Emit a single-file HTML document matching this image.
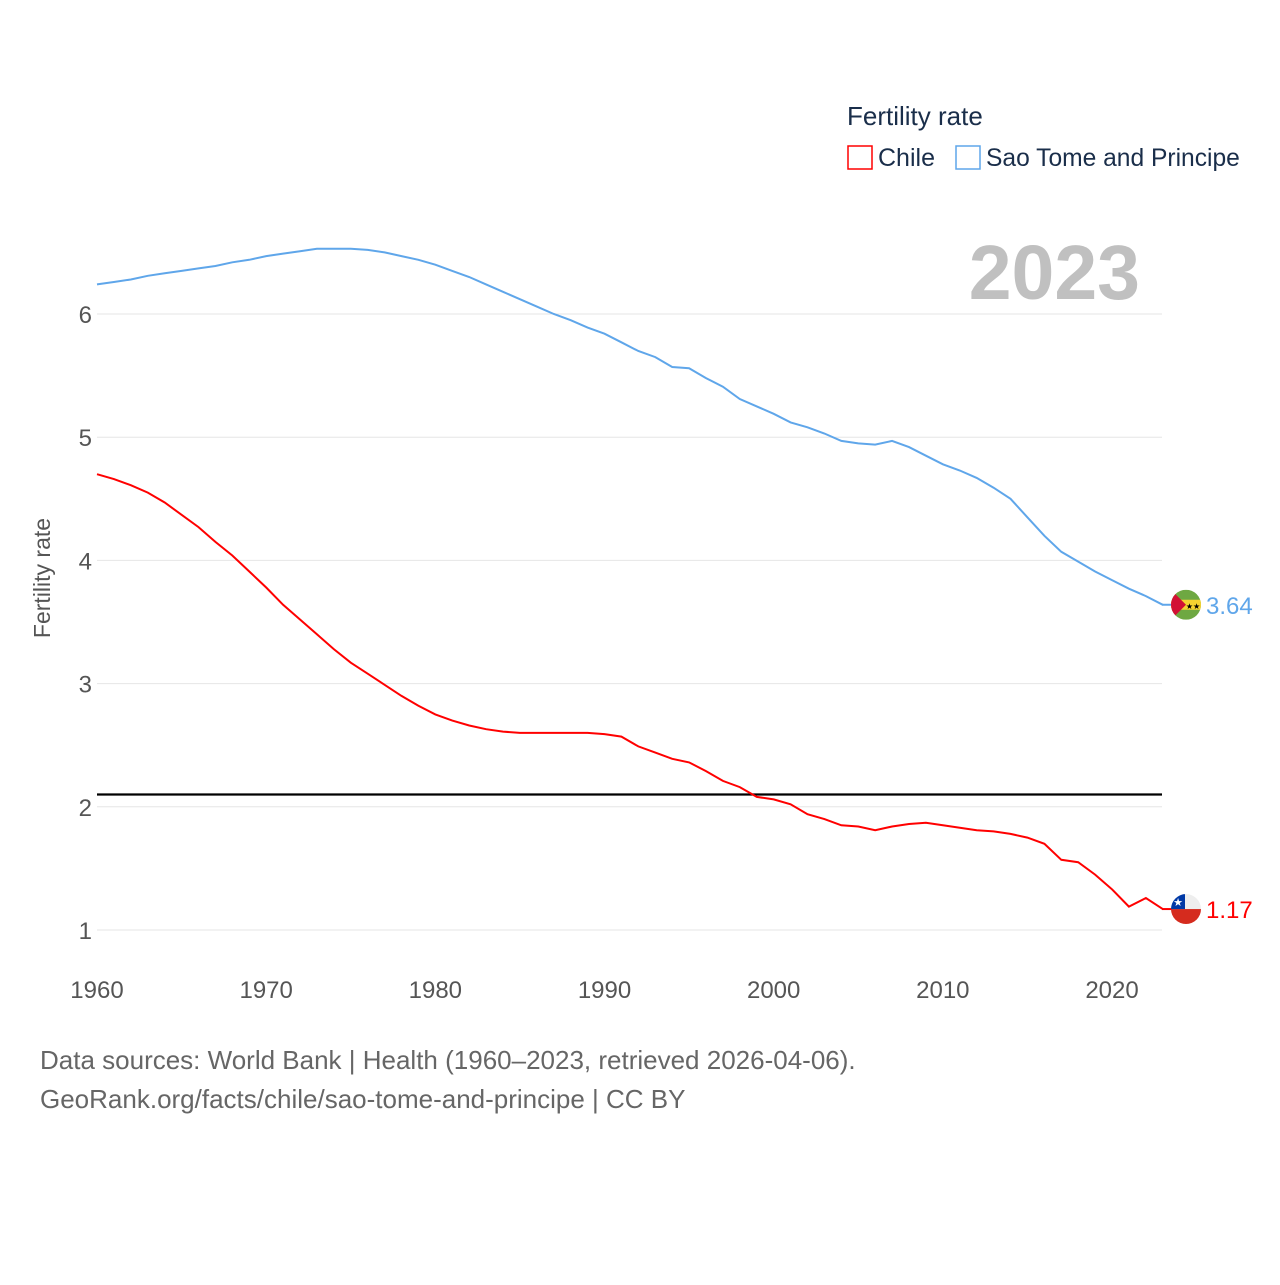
<!DOCTYPE html>
<html><head><meta charset="utf-8"><style>
body{margin:0;background:#fff;width:1280px;height:1280px;overflow:hidden;font-family:"Liberation Sans",sans-serif}
</style></head><body>
<svg id="chart" width="1280" height="1280" xmlns="http://www.w3.org/2000/svg">
<text x="847" y="125" font-size="26" fill="#1a2e4a">Fertility rate</text>
<rect x="848" y="146" width="24" height="23" fill="none" stroke="#f00" stroke-width="1.5"/>
<text x="878" y="166" font-size="25" fill="#1a2e4a">Chile</text>
<rect x="956" y="146" width="24" height="23" fill="none" stroke="#5fa6ea" stroke-width="1.5"/>
<text x="986" y="166" font-size="24.6" fill="#1a2e4a">Sao Tome and Principe</text>
<text x="1140" y="299" font-size="77" font-weight="bold" fill="#c0c0c0" text-anchor="end">2023</text>
<text transform="translate(50,578) rotate(-90)" font-size="23" fill="#555" text-anchor="middle">Fertility rate</text>
<g id="grid"></g><g id="lines"></g>
<text x="40" y="1069" font-size="26" fill="#666">Data sources: World Bank | Health (1960–2023, retrieved 2026-04-06).</text>
<text x="40" y="1108" font-size="26" fill="#666">GeoRank.org/facts/chile/sao-tome-and-principe | CC BY</text>
</svg>
<script>
const years=[];for(let y=1960;y<=2023;y++)years.push(y);
const chile=[4.70,4.66,4.61,4.55,4.47,4.37,4.27,4.15,4.04,3.91,3.78,3.64,3.52,3.40,3.28,3.17,3.08,2.99,2.90,2.82,2.75,2.70,2.66,2.63,2.61,2.60,2.60,2.60,2.60,2.60,2.59,2.57,2.49,2.44,2.39,2.36,2.29,2.21,2.16,2.08,2.06,2.02,1.94,1.90,1.85,1.84,1.81,1.84,1.86,1.87,1.85,1.83,1.81,1.80,1.78,1.75,1.70,1.57,1.55,1.45,1.33,1.19,1.26,1.17];
const stp=[6.24,6.26,6.28,6.31,6.33,6.35,6.37,6.39,6.42,6.44,6.47,6.49,6.51,6.53,6.53,6.53,6.52,6.50,6.47,6.44,6.40,6.35,6.30,6.24,6.18,6.12,6.06,6.00,5.95,5.89,5.84,5.77,5.70,5.65,5.57,5.56,5.48,5.41,5.31,5.25,5.19,5.12,5.08,5.03,4.97,4.95,4.94,4.97,4.92,4.85,4.78,4.73,4.67,4.59,4.50,4.35,4.20,4.07,3.99,3.91,3.84,3.77,3.71,3.64];
const yTicks=[1,2,3,4,5,6];
const xTicks=[1960,1970,1980,1990,2000,2010,2020];
const replacement=2.1;
const X=y=>97+(y-1960)*16.917, Y=v=>930-(v-1)*123.2;
const NS='http://www.w3.org/2000/svg';
function mk(t,a,p){const e=document.createElementNS(NS,t);for(const k in a)e.setAttribute(k,a[k]);p.appendChild(e);return e;}
const g=document.getElementById('grid'),L=document.getElementById('lines');
yTicks.forEach(v=>{
 const l=mk('line',{x1:97,x2:1162,y1:Y(v),y2:Y(v),stroke:'#e6e6e6','stroke-width':1},g);
 
 
 const t=mk('text',{x:92,y:Y(v)+9,'font-size':24,fill:'#555','text-anchor':'end'},g);t.textContent=v;
 
 
});
xTicks.forEach(v=>{
 const t=mk('text',{x:X(v),y:998,'font-size':24,fill:'#555','text-anchor':'middle'},g);t.textContent=v;
 
 
});
const rl=mk('line',{x1:97,x2:1162,y1:Y(replacement),y2:Y(replacement),stroke:'#000','stroke-width':2.2},g);


function series(vals,color,name){
 const p=mk('path',{d:vals.map((v,i)=>(i?'L':'M')+X(years[i]).toFixed(1)+','+Y(v).toFixed(1)).join(''),fill:'none',stroke:color,'stroke-width':2},L);
 
 
 const last=vals[vals.length-1],ly=Y(last);
 mk('line',{x1:1162,x2:1172,y1:ly,y2:ly,stroke:color,'stroke-width':2},L);
 const t=mk('text',{x:1206,y:ly+9,'font-size':24,fill:color},L);t.textContent=last.toFixed(2);
 
 
 return ly;
}
const cy=series(chile,'#f00','chile');
const sy=series(stp,'#5fa6ea','stp');
function flag(cx,cy,html,name){
 const gg=mk('g',{},L);gg.innerHTML='<clipPath id="c'+name+'"><circle cx="'+cx+'" cy="'+cy+'" r="15"/></clipPath><g clip-path="url(#c'+name+')">'+html+'</g>';
 
 
}
flag(1186,cy,`<rect x="1171" y="${cy-15}" width="30" height="15" fill="#eee"/><rect x="1171" y="${cy}" width="30" height="15" fill="#d52b1e"/><rect x="1171" y="${cy-15}" width="14" height="15" fill="#0039a6"/><text x="1178" y="${cy-3}" font-size="11" fill="#fff" text-anchor="middle">★</text>`,'chile');
flag(1186,sy,`<rect x="1171" y="${sy-15}" width="30" height="30" fill="#6ea842"/><rect x="1171" y="${sy-5}" width="30" height="10" fill="#f5d230"/><polygon points="1171,${sy-15} 1186,${sy} 1171,${sy+15}" fill="#d21034"/><text x="1193" y="${sy+4}" font-size="8" fill="#000" text-anchor="middle">★★</text>`,'stp');
</script>
</body></html>
